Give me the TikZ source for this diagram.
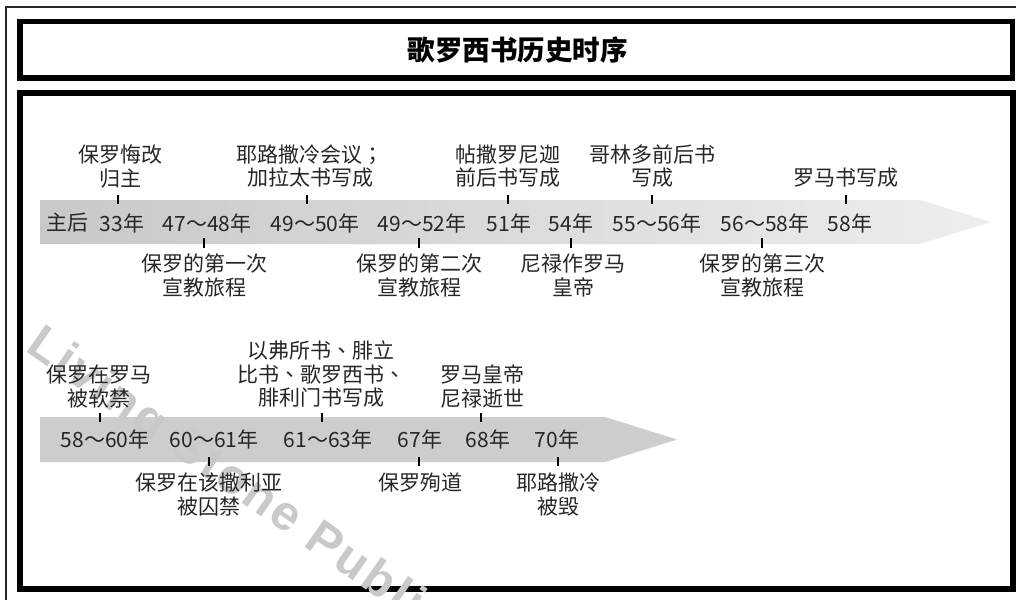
\documentclass[tikz,border=0pt]{standalone}
\usepackage{fontspec}
\setmainfont{Noto Sans CJK SC}
\newfontfamily\tcfont{Noto Sans CJK TC}
\newfontfamily\wmfont[LetterSpace=6]{Liberation Sans}
\newcommand{\dun}{{\tcfont 、}}
\newcommand{\fen}{{\tcfont ；}}
\definecolor{txt}{HTML}{262626}
\definecolor{wmgray}{HTML}{C9C9C9}
\definecolor{bandA}{HTML}{C8C8C8}
\definecolor{bandB}{HTML}{EEEEEE}
\definecolor{bandC}{HTML}{CDCDCD}
\begin{document}
\begin{tikzpicture}[x=1pt,y=-1pt,
  lbl/.style={font=\fontsize{21}{23.5}\selectfont, text=txt, align=center, inner sep=0pt},
  yr/.style={font=\fontsize{21}{24}\selectfont, text=txt, inner sep=0pt},
  tickmark/.style={rectangle, fill=black, draw=none, inner sep=0pt, minimum width=2.5pt, minimum height=9.5pt},
  frame/.style={draw=black},
  wm/.style={font=\wmfont\bfseries\fontsize{49}{49}\selectfont, text=wmgray, inner sep=0pt}
]
\useasboundingbox (0,0) rectangle (1016,599);
\clip (0,0) rectangle (1016,599);
\fill[white] (0,0) rectangle (1016,599);

% frames
\draw[frame, line width=1.6pt, draw=black!85] (6,7) rectangle (1030,620);
\draw[frame, line width=5.5pt] (19.75,21.75) rectangle (1012.25,78.25);
\draw[frame, line width=6pt] (20,93) rectangle (1013,589);

% title
\node[font=\fontsize{27.5}{30}\selectfont\bfseries, inner sep=0pt] (title) at (517.5,49.5) {歌罗西书历史时序};

% bands
\shade[left color=bandA, right color=bandB] (40,200) -- (920,200) -- (991,222) -- (920,244) -- (40,244) -- cycle;
\fill[bandC] (40,417) -- (605,417) -- (677,439.5) -- (605,462) -- (40,462) -- cycle;

% watermark (behind the texts)
\node[wm, rotate=-35, anchor=base west] (wmark) at (24,350) {Living Stone Publishing};

% row 1 years
\node[yr] (y1)  at (67,223)  {主后};
\node[yr] (y2)  at (122,223) {33年};
\node[yr] (y3)  at (207,223) {47～48年};
\node[yr] (y4)  at (315,223) {49～50年};
\node[yr] (y5)  at (422,223) {49～52年};
\node[yr] (y6)  at (509,223) {51年};
\node[yr] (y7)  at (571,223) {54年};
\node[yr] (y8)  at (657,223) {55～56年};
\node[yr] (y9)  at (765,223) {56～58年};
\node[yr] (y10) at (850,223) {58年};

% row 1 ticks
\node[tickmark] (k1) at (118,199.5) {};
\node[tickmark] (k2) at (307,199.5) {};
\node[tickmark] (k3) at (508,199.5) {};
\node[tickmark] (k4) at (652,199.5) {};
\node[tickmark] (k5) at (846,199.5) {};
\node[tickmark] (k6) at (204,243) {};
\node[tickmark] (k7) at (419,243) {};
\node[tickmark] (k8) at (571,243) {};
\node[tickmark] (k9) at (762,243) {};

% row 1 labels above
\node[lbl, anchor=south] (a1) at (120,188) {保罗悔改\\归主};
\node[lbl, anchor=south] (a2) at (310,188) {耶路撒冷会议\fen\\加拉太书写成};
\node[lbl, anchor=south] (a3) at (508,188) {帖撒罗尼迦\\前后书写成};
\node[lbl, anchor=south] (a4) at (652,188) {哥林多前后书\\写成};
\node[lbl, anchor=south] (a5) at (846,188) {罗马书写成};

% row 1 labels below
\node[lbl, anchor=north] (b1) at (204,254) {保罗的第一次\\宣教旅程};
\node[lbl, anchor=north] (b2) at (419,254) {保罗的第二次\\宣教旅程};
\node[lbl, anchor=north] (b3) at (573,254) {尼禄作罗马\\皇帝};
\node[lbl, anchor=north] (b4) at (762,254) {保罗的第三次\\宣教旅程};

% row 2 years
\node[yr] (z1) at (105,439) {58～60年};
\node[yr] (z2) at (214,439) {60～61年};
\node[yr] (z3) at (328,439) {61～63年};
\node[yr] (z4) at (420,439) {67年};
\node[yr] (z5) at (488,439) {68年};
\node[yr] (z6) at (557,439) {70年};

% row 2 ticks
\node[tickmark] (m1) at (100,417.5) {};
\node[tickmark] (m2) at (322,417.5) {};
\node[tickmark] (m3) at (481,417.5) {};
\node[tickmark] (m4) at (209,461.5) {};
\node[tickmark] (m5) at (419,461.5) {};
\node[tickmark] (m6) at (558,461.5) {};

% row 2 labels above
\node[lbl, anchor=south] (c1) at (99,408) {保罗在罗马\\被软禁};
\node[lbl, anchor=south] (c2) at (321,408) {以弗所书\dun 腓立\\比书\dun 歌罗西书\dun\\腓利门书写成};
\node[lbl, anchor=south] (c3) at (482,408) {罗马皇帝\\尼禄逝世};

% row 2 labels below
\node[lbl, anchor=north] (d1) at (209,473) {保罗在该撒利亚\\被囚禁};
\node[lbl, anchor=north] (d2) at (420,473) {保罗殉道};
\node[lbl, anchor=north] (d3) at (558,473) {耶路撒冷\\被毁};
\end{tikzpicture}
\end{document}
